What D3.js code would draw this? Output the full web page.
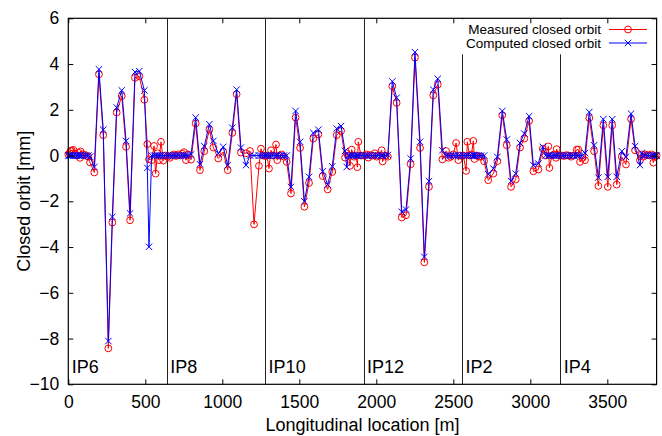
<!DOCTYPE html>
<html>
<head>
<meta charset="utf-8">
<script src="https://cdn.jsdelivr.net/npm/d3@7"></script>
<style>
  body { margin: 0; background: #fff; }
  text { font-family: "Liberation Sans", Arial, Helvetica, sans-serif; fill: #000; }
</style>
</head>
<body>
<svg id="chart" width="662" height="436"></svg>
<script>
// BPM positions [m] and orbit readings [mm]
const positions = [
  0, 8, 15, 22, 33, 45, 58, 68, 76, 80, 92, 108, 120, 130, 141,
  169, 199, 227, 260, 286, 314, 347, 375, 401, 433, 461, 494, 513, 524,
  541, 557, 567, 580, 589, 602, 617, 630,
  645, 660, 672, 685, 700, 714, 727, 740, 751, 764, 778, 797,
  827, 855, 883, 916, 942, 974, 1006, 1035, 1065, 1093, 1121, 1154,
  1180, 1206, 1238, 1251, 1265,
  1280, 1290, 1303, 1316, 1330, 1349, 1357, 1370, 1385, 1400, 1418,
  1446, 1476, 1505, 1533, 1563, 1591, 1624, 1652, 1684, 1714, 1743, 1771, 1797, 1808,
  1820, 1829, 1840, 1855, 1870, 1877, 1883, 1900,
  1920, 1935, 1948, 1960, 1975, 1990, 2002, 2013, 2035, 2041, 2060, 2075,
  2104, 2132, 2165, 2193, 2223, 2251, 2284, 2312, 2342, 2370, 2399, 2429,
  2453, 2470, 2483, 2500, 2518, 2533, 2545,
  2565, 2583, 2591, 2605, 2618, 2630, 2637, 2650, 2665, 2680, 2700,
  2727, 2760, 2786, 2818, 2847, 2875, 2905, 2933, 2961, 2992, 3020, 3052, 3081,
  3100, 3117, 3124, 3140, 3155, 3167, 3171, 3185,
  3205, 3220, 3235, 3250, 3265, 3280, 3301, 3312, 3323, 3340, 3355,
  3383, 3414, 3442, 3474, 3503, 3532, 3561, 3594, 3621, 3654, 3680, 3712, 3723,
  3735, 3745, 3760, 3775, 3787, 3799, 3810, 3820
];
const measured = [
  0.05, 0.1, 0.2, 0.22, 0.25, 0.08, 0.0, 0.12, -0.1, 0.18, 0.05, 0.03, -0.02, -0.05, -0.3,
  -0.74, 3.55, 0.89, -8.43, -2.93, 1.88, 2.6, 0.38, -2.83, 3.4, 3.46, 2.44, 0.5, -0.16,
  -0.2, 0.42, -0.79, 0.1, -0.2, 0.6, -0.22, 0.0,
  -0.05, -0.1, 0.0, 0.05, -0.02, 0.05, 0.0, 0.08, 0.15, -0.2, 0.05, -0.18,
  1.4, -0.64, 0.19, 1.13, 0.35, -0.13, 0.16, -0.64, 0.99, 2.68, 0.13, 0.1,
  0.2, -3.01, -0.45, 0.3, 0.0,
  -0.02, 0.0, -0.57, 0.23, 0.0, 0.48, -0.2, 0.0, 0.05, -0.05, -0.28,
  -1.66, 1.66, 0.33, -2.24, -1.2, 0.74, 0.92, -0.9, -1.48, -0.72, 0.89, 1.07, -0.09, 0.1,
  0.0, -0.45, 0.26, -0.05, 0.0, -0.51, 0.6, 0.0,
  0.0, 0.05, -0.09, 0.02, 0.0, 0.1, -0.05, 0.0, 0.23, -0.26, 0.0, -0.05,
  3.03, 2.3, -2.71, -2.61, -0.38, 4.28, 0.33, -4.67, -1.37, 2.63, 3.1, -0.17,
  0.2, -0.1, -0.05, 0.05, 0.55, -0.2, 0.0,
  0.0, -0.67, 0.6, 0.0, 0.05, 0.64, -0.15, 0.0, -0.05, -0.05, -0.25,
  -1.08, -0.79, -0.25, 1.76, 0.45, -1.37, -1.05, 0.35, 0.74, 1.51, -0.69, -0.61, 0.3,
  0.0, 0.4, -0.54, 0.0, 0.05, -0.1, 0.28, 0.0,
  0.0, -0.02, 0.02, 0.0, -0.05, 0.0, 0.26, 0.26, -0.28, -0.1, -0.2,
  1.64, 0.19, -1.33, 1.32, -1.37, 1.32, -1.27, -0.06, -0.39, 1.59, 0.23, -0.2, 0.05,
  -0.05, 0.05, 0.02, 0.0, 0.05, -0.31, -0.05, 0.0
];
const computed = [
  0, 0, 0, 0, 0, 0, 0, 0, 0, 0, 0, 0, 0, 0, -0.05,
  -0.5, 3.77, 1.13, -8.11, -2.68, 2.1, 2.85, 0.64, -2.53, 3.65, 3.69, 2.85, -0.54, -3.99,
  0, 0, 0, 0, 0, 0, 0, 0,
  0, 0, 0, 0, 0, 0, 0, 0, 0, 0, 0, 0.05,
  1.66, -0.38, 0.41, 1.37, 0.64, 0.09, 0.38, -0.42, 1.22, 2.88, 0.35, -0.42,
  0, 0, 0, 0, 0,
  0, 0, 0, 0, 0, 0, 0, 0, 0, 0, 0,
  -1.37, 1.95, 0.6, -2.0, -0.93, 0.99, 1.13, -0.69, -1.27, -0.47, 1.18, 1.29, 0.2, -0.5,
  0, 0, 0, 0, 0, 0, 0, 0,
  0, 0, 0, 0, 0, 0, 0, 0, 0, 0, 0, 0.02,
  3.24, 2.53, -2.46, -2.36, -0.13, 4.52, 0.6, -4.43, -1.12, 2.88, 3.36, 0.23,
  0, 0, 0, 0, 0, 0, 0,
  0, 0, 0, 0, 0, 0, 0, 0, 0, 0, 0,
  -0.82, -0.57, -0.06, 1.95, 0.7, -1.12, -0.79, 0.55, 0.96, 1.72, -0.42, -0.35, 0.38,
  0, 0, 0, 0, 0, 0, 0, 0,
  0, 0, 0, 0, 0, 0, 0, 0, 0, 0, 0.11,
  1.9, 0.45, -0.96, 1.59, -0.93, 1.59, -0.93, 0.19, -0.06, 1.83, 0.41, -0.42, 0.11,
  0, 0, 0, 0, 0, 0, 0, 0
];

const xTicks = [0, 500, 1000, 1500, 2000, 2500, 3000, 3500];
const yTicks = [-10, -8, -6, -4, -2, 0, 2, 4, 6];
const ipLines = [639, 1278, 1917, 2556, 3195];
const ipStarts = [0, 639, 1278, 1917, 2556, 3195];
const ipNames = ['IP6', 'IP8', 'IP10', 'IP12', 'IP2', 'IP4'];
const seriesNames = ['Measured closed orbit', 'Computed closed orbit'];

const plotL = 68.3, plotR = 656.6, plotT = 18.3, plotB = 384.3;

const svg = d3.select('#chart');

const x = d3.scaleLinear().domain([0, 3820]).range([plotL, plotR]);
const y = d3.scaleLinear().domain([-10, 6]).range([plotB, plotT]);

// IP separators
svg.append('g')
  .selectAll('line')
  .data(ipLines)
  .enter()
  .append('line')
  .attr('x1', d => Math.round(x(d)) + 0.5)
  .attr('x2', d => Math.round(x(d)) + 0.5)
  .attr('y1', y(-10))
  .attr('y2', y(6))
  .attr('stroke', '#222')
  .attr('stroke-width', 1);

// legend background hides the separator lines under the key
svg.append('rect')
  .attr('x', 456).attr('y', plotT + 1)
  .attr('width', plotR - 457).attr('height', 35)
  .attr('fill', '#fff');

svg.append('g')
  .selectAll('text')
  .data(ipNames)
  .enter()
  .append('text')
  .attr('x', (d, i) => x(ipStarts[i]) + 3.5)
  .attr('y', 373)
  .attr('font-size', 18)
  .text(d => d);

const pts = positions.map((d, i) => ({ s: d, m: measured[i], c: computed[i] }));

// measured
svg.append('path')
  .datum(pts)
  .attr('fill', 'none')
  .attr('stroke', '#ff0000')
  .attr('stroke-width', 1)
  .attr('d', d3.line().x(d => x(d.s)).y(d => y(d.m)));

svg.append('g')
  .selectAll('circle')
  .data(pts)
  .enter()
  .append('circle')
  .attr('cx', d => x(d.s))
  .attr('cy', d => y(d.m))
  .attr('r', 3.4)
  .attr('fill', 'none')
  .attr('stroke', '#ff0000')
  .attr('stroke-width', 1);

// computed
svg.append('path')
  .datum(pts)
  .attr('fill', 'none')
  .attr('stroke', '#0000ff')
  .attr('stroke-width', 1)
  .attr('d', d3.line().x(d => x(d.s)).y(d => y(d.c)));

const cross = 3.2;
svg.append('g')
  .selectAll('path')
  .data(pts)
  .enter()
  .append('path')
  .attr('transform', d => `translate(${x(d.s)},${y(d.c)})`)
  .attr('d', `M${-cross},${-cross}L${cross},${cross}M${-cross},${cross}L${cross},${-cross}`)
  .attr('stroke', '#0000ff')
  .attr('stroke-width', 1);

// frame with inward ticks on all four sides
const tl = 5;
const bottomAxis = d3.axisBottom(x).tickValues(xTicks).tickSize(-tl).tickPadding(tl + 6).tickFormat(d3.format('d'));
const topAxis = d3.axisTop(x).tickValues(xTicks).tickSize(-tl).tickFormat('');
const leftAxis = d3.axisLeft(y).tickValues(yTicks).tickSize(-tl).tickPadding(tl + 4).tickFormat(d3.format('d'));
const rightAxis = d3.axisRight(y).tickValues(yTicks).tickSize(-tl).tickFormat('');

function styleAxis(g) {
  g.select('.domain').remove();
  g.selectAll('line').attr('stroke', '#000');
  g.selectAll('text').attr('font-size', 17.5).attr('fill', '#000')
    .attr('font-family', '"Liberation Sans", Arial, sans-serif');
}

svg.append('g').attr('transform', `translate(0,${plotB})`).call(bottomAxis).call(styleAxis);
svg.append('g').attr('transform', `translate(0,${plotT})`).call(topAxis).call(styleAxis);
svg.append('g').attr('transform', `translate(${plotL},0)`).call(leftAxis).call(styleAxis);
svg.append('g').attr('transform', `translate(${plotR},0)`).call(rightAxis).call(styleAxis);

svg.append('rect')
  .attr('x', plotL).attr('y', plotT)
  .attr('width', plotR - plotL).attr('height', plotB - plotT)
  .attr('fill', 'none')
  .attr('stroke', '#000')
  .attr('stroke-width', 1.2);

// axis titles
svg.append('text')
  .attr('x', (plotL + plotR) / 2)
  .attr('y', 431)
  .attr('text-anchor', 'middle')
  .attr('font-size', 18)
  .text('Longitudinal location [m]');

svg.append('text')
  .attr('transform', `translate(30,${(plotT + plotB) / 2}) rotate(-90)`)
  .attr('text-anchor', 'middle')
  .attr('font-size', 18)
  .text('Closed orbit [mm]');

// legend
const key = svg.append('g');
seriesNames.forEach((name, i) => {
  const ky = 29.5 + i * 13.5;
  const col = i === 0 ? '#ff0000' : '#0000ff';
  key.append('text')
    .attr('x', 601).attr('y', ky)
    .attr('dy', '0.35em')
    .attr('text-anchor', 'end')
    .attr('font-size', 13.5)
    .text(name);
  key.append('line')
    .attr('x1', 609).attr('x2', 647)
    .attr('y1', ky).attr('y2', ky)
    .attr('stroke', col).attr('stroke-width', 1);
  if (i === 0) {
    key.append('circle').attr('cx', 628).attr('cy', ky).attr('r', 3.4)
      .attr('fill', 'none').attr('stroke', col);
  } else {
    key.append('path')
      .attr('transform', `translate(628,${ky})`)
      .attr('d', `M${-cross},${-cross}L${cross},${cross}M${-cross},${cross}L${cross},${-cross}`)
      .attr('stroke', col);
  }
});
</script>
</body>
</html>
